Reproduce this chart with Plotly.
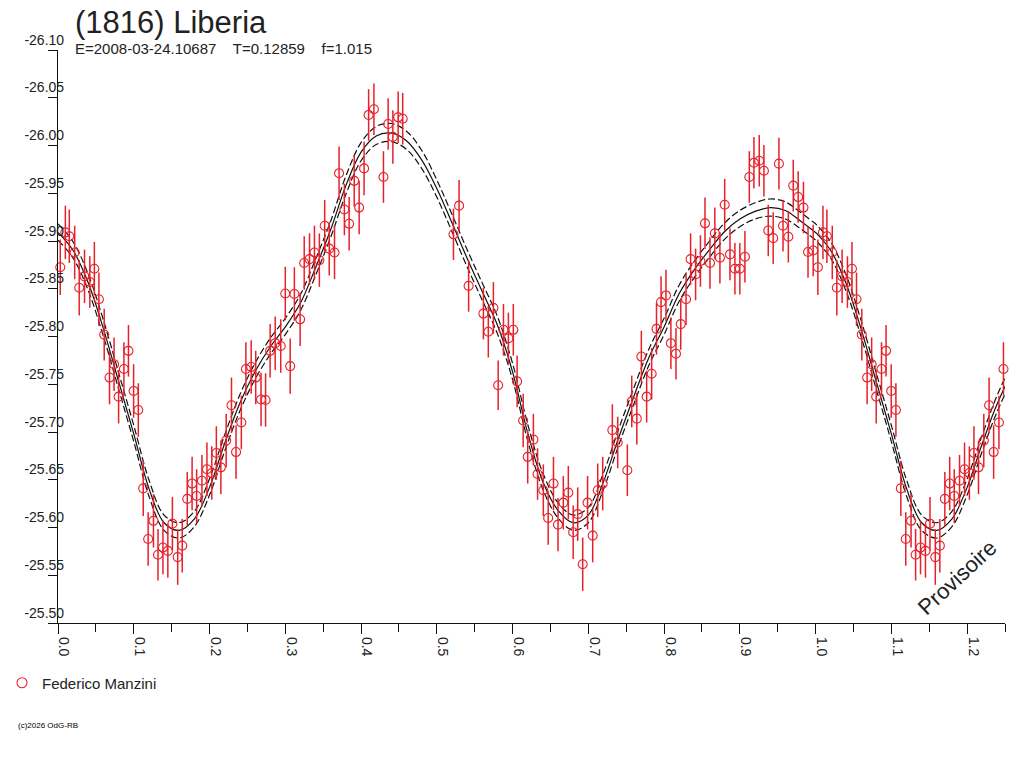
import plotly.graph_objects as go

# ---- observed data (phase, reduced magnitude, error) ----
phase = [0.003, 0.0097, 0.0149, 0.022, 0.028, 0.035, 0.042, 0.048, 0.054, 0.061,
         0.068, 0.074, 0.080, 0.087, 0.093, 0.0998, 0.106, 0.1125, 0.119, 0.126,
         0.132, 0.1385, 0.145, 0.151, 0.158, 0.164, 0.1706, 0.177, 0.183, 0.190,
         0.1966, 0.203, 0.209, 0.215, 0.222, 0.229, 0.235, 0.242, 0.248, 0.255,
         0.261, 0.268, 0.274, 0.280, 0.2867, 0.294, 0.300, 0.3065, 0.312, 0.3196,
         0.325, 0.332, 0.3385, 0.345, 0.352, 0.358, 0.365, 0.371, 0.378, 0.3843,
         0.391, 0.3975, 0.404, 0.410, 0.417, 0.4296, 0.4358, 0.442, 0.449, 0.455,
         0.522, 0.5294, 0.542, 0.5615, 0.568, 0.5747, 0.581, 0.588, 0.5945, 0.601,
         0.606, 0.614, 0.620, 0.6275, 0.633, 0.6406, 0.647, 0.654, 0.660, 0.667,
         0.6736, 0.680, 0.686, 0.6926, 0.699, 0.7058, 0.7124, 0.719, 0.7317, 0.7388,
         0.7515, 0.7573, 0.764, 0.770, 0.777, 0.7836, 0.790, 0.796, 0.8025, 0.809,
         0.8157, 0.822, 0.829, 0.835, 0.8416, 0.848, 0.854, 0.8606, 0.867, 0.8737,
         0.880, 0.887, 0.8935, 0.900, 0.9067, 0.9125, 0.9186, 0.9256, 0.9318, 0.9375,
         0.944, 0.9516, 0.957, 0.964, 0.9705, 0.977, 0.984, 0.990, 0.9968]
mag = [-25.8725, -25.909, -25.905, -25.888, -25.851, -25.863, -25.857, -25.871, -25.839, -25.802,
       -25.757, -25.771, -25.737, -25.766, -25.785, -25.743, -25.723, -25.641, -25.588, -25.607,
       -25.5715, -25.579, -25.5755, -25.604, -25.569, -25.581, -25.630, -25.646, -25.633, -25.649,
       -25.661, -25.657, -25.678, -25.663, -25.691, -25.728, -25.679, -25.710, -25.766, -25.768,
       -25.757, -25.734, -25.7335, -25.785, -25.793, -25.790, -25.845, -25.769, -25.8445, -25.818,
       -25.877, -25.881, -25.888, -25.880, -25.916, -25.892, -25.888, -25.971, -25.933, -25.918,
       -25.963, -25.935, -25.976, -26.032, -26.038, -25.967, -26.0225, -26.009, -26.0295, -26.028,
       -25.907, -25.937, -25.853, -25.824, -25.805, -25.830, -25.749, -25.807, -25.798, -25.807,
       -25.753, -25.712, -25.674, -25.692, -25.656, -25.639, -25.610, -25.646, -25.603, -25.626,
       -25.6365, -25.595, -25.614, -25.5615, -25.626, -25.5915, -25.639, -25.646, -25.702, -25.689,
       -25.660, -25.732, -25.714, -25.779, -25.737, -25.761, -25.808, -25.836, -25.843, -25.793,
       -25.782, -25.813, -25.839, -25.881, -25.865, -25.879, -25.9185, -25.877, -25.908, -25.8825,
       -25.938, -25.886, -25.871, -25.871, -25.8835, -25.967, -25.982, -25.984, -25.9736, -25.911,
       -25.903, -25.981, -25.916, -25.9045, -25.958, -25.946, -25.935, -25.8885, -25.890]
err = [0.029, 0.028, 0.028, 0.028, 0.029, 0.028, 0.027, 0.028, 0.028, 0.027,
       0.028, 0.028, 0.028, 0.028, 0.027, 0.028, 0.028, 0.029, 0.028, 0.028,
       0.027, 0.028, 0.028, 0.028, 0.029, 0.028, 0.028, 0.028, 0.028, 0.027,
       0.028, 0.028, 0.028, 0.028, 0.028, 0.029, 0.028, 0.028, 0.028, 0.028,
       0.028, 0.028, 0.028, 0.028, 0.028, 0.028, 0.028, 0.029, 0.028, 0.028,
       0.028, 0.027, 0.028, 0.028, 0.027, 0.028, 0.028, 0.028, 0.027, 0.028,
       0.027, 0.028, 0.028, 0.027, 0.027, 0.027, 0.027, 0.028, 0.027, 0.027,
       0.027, 0.027, 0.027, 0.027, 0.027, 0.027, 0.026, 0.027, 0.027, 0.027,
       0.027, 0.028, 0.028, 0.027, 0.027, 0.027, 0.028, 0.028, 0.028, 0.028,
       0.028, 0.028, 0.028, 0.028, 0.028, 0.028, 0.028, 0.028, 0.027, 0.027,
       0.027, 0.027, 0.027, 0.027, 0.027, 0.027, 0.027, 0.027, 0.027, 0.027,
       0.027, 0.027, 0.027, 0.027, 0.027, 0.027, 0.027, 0.027, 0.027, 0.027,
       0.027, 0.027, 0.027, 0.027, 0.027, 0.027, 0.027, 0.027, 0.027, 0.027,
       0.027, 0.027, 0.027, 0.027, 0.027, 0.027, 0.027, 0.027, 0.027]

# ---- fitted light curve (solid) and its envelope (dashed) ----
curve_phase = [0.00, 0.02, 0.04, 0.06, 0.08, 0.10, 0.12, 0.14, 0.16, 0.18,
               0.20, 0.22, 0.24, 0.26, 0.28, 0.30, 0.32, 0.34, 0.36, 0.38,
               0.40, 0.42, 0.44, 0.46, 0.48, 0.50, 0.52, 0.54, 0.56, 0.58,
               0.60, 0.62, 0.64, 0.66, 0.68, 0.70, 0.72, 0.74, 0.76, 0.78,
               0.80, 0.82, 0.84, 0.86, 0.88, 0.90, 0.92, 0.94, 0.96, 0.98, 1.00]
curve_fit = [-25.909, -25.890, -25.856, -25.808, -25.753, -25.698, -25.641, -25.605, -25.597, -25.609,
             -25.642, -25.688, -25.730, -25.763, -25.789, -25.810, -25.835, -25.872, -25.912, -25.958,
             -25.993, -26.010, -26.013, -26.005, -25.985, -25.955, -25.919, -25.882, -25.847, -25.812,
             -25.763, -25.699, -25.648, -25.618, -25.605, -25.613, -25.648, -25.694, -25.737, -25.778,
             -25.810, -25.845, -25.870, -25.891, -25.910, -25.923, -25.931, -25.935, -25.932, -25.921, -25.909]
curve_hi = [-25.918, -25.899, -25.865, -25.817, -25.762, -25.707, -25.650, -25.613, -25.605, -25.617,
            -25.651, -25.697, -25.739, -25.772, -25.798, -25.819, -25.844, -25.881, -25.921, -25.968,
            -26.003, -26.020, -26.023, -26.015, -25.995, -25.964, -25.928, -25.891, -25.856, -25.821,
            -25.772, -25.708, -25.657, -25.626, -25.613, -25.621, -25.657, -25.703, -25.746, -25.787,
            -25.819, -25.854, -25.879, -25.900, -25.919, -25.932, -25.940, -25.944, -25.941, -25.930, -25.918]
curve_lo = [-25.901, -25.882, -25.848, -25.800, -25.745, -25.690, -25.633, -25.597, -25.589, -25.601,
            -25.634, -25.680, -25.722, -25.755, -25.781, -25.802, -25.827, -25.864, -25.904, -25.949,
            -25.984, -26.001, -26.004, -25.996, -25.976, -25.946, -25.910, -25.873, -25.838, -25.803,
            -25.755, -25.691, -25.640, -25.610, -25.597, -25.605, -25.640, -25.686, -25.729, -25.770,
            -25.802, -25.837, -25.862, -25.883, -25.902, -25.915, -25.923, -25.926, -25.923, -25.913, -25.901]

x_ticks = [0.0, 0.1, 0.2, 0.3, 0.4, 0.5, 0.6, 0.7, 0.8, 0.9, 1.0, 1.1, 1.2]
y_ticks = [-26.10, -26.05, -26.00, -25.95, -25.90, -25.85, -25.80, -25.75,
           -25.70, -25.65, -25.60, -25.55, -25.50]

XMAX = 1.25
RED = "#e8202a"
FONT = "Liberation Sans, Arial, sans-serif"
TXT = "#222222"

# plot-area size in px (used to place text in paper units)
PW, PH = 947, 573
def pxx(v):  # horizontal px offset from plot left -> paper
    return v / PW
def pxy(v):  # vertical px offset from plot top (downwards) -> paper
    return 1 - v / PH

# phase-folded plot repeats the start of the cycle beyond phase 1
def extend(xs, ys, limit):
    ex = list(xs) + [x + 1 for x in xs if x + 1 <= limit]
    ey = list(ys) + [y for x, y in zip(xs, ys) if x + 1 <= limit]
    return ex, ey

px_, py_ = extend(phase, mag, XMAX)
_, pe_ = extend(phase, err, XMAX)
cx, cy = extend(curve_phase, curve_fit, 1.30)
_, chi = extend(curve_phase, curve_hi, 1.30)
_, clo = extend(curve_phase, curve_lo, 1.30)

fig = go.Figure()
for yy, dash in ((chi, "7px,3px"), (clo, "7px,3px"), (cy, "solid")):
    fig.add_trace(go.Scatter(x=cx, y=yy, mode="lines",
                             line=dict(color="#111111", width=1.2, dash=dash, shape="spline", smoothing=1.0),
                             showlegend=False, hoverinfo="skip"))

fig.add_trace(go.Scatter(
    x=px_, y=py_, mode="markers",
    marker=dict(symbol="circle-open", size=9, color=RED, line=dict(width=1.1, color=RED)),
    error_y=dict(type="data", array=pe_, visible=True, color=RED, thickness=1.5, width=0),
    showlegend=False, cliponaxis=False, name="Federico Manzini"))

fig.add_trace(go.Scatter(
    x=[None], y=[None], mode="markers", name="Federico Manzini",
    marker=dict(symbol="circle-open", size=10, color=RED, line=dict(width=1.1, color=RED)),
    showlegend=True))

fig.update_layout(
    width=1024, height=768,
    margin=dict(l=50, r=27, t=42, b=153, autoexpand=False),
    paper_bgcolor="white", plot_bgcolor="white",
    font=dict(family=FONT, color=TXT, size=14),
    showlegend=True,
    legend=dict(x=pxx(-56), y=pxy(633), xanchor="left", yanchor="middle",
                font=dict(size=15, family=FONT, color=TXT), bgcolor="rgba(0,0,0,0)",
                borderwidth=0),
    xaxis=dict(range=[0, XMAX], showgrid=False, zeroline=False, automargin=False,
               showline=True, linecolor="#111111", linewidth=1.2,
               ticks="outside", ticklen=10, tickcolor="#111111", tickwidth=1.2,
               tickvals=x_ticks, ticktext=[f"{v:.1f}" for v in x_ticks],
               tickangle=90, tickfont=dict(size=14, family=FONT, color=TXT),
               ticklabelshift=6,
               minor=dict(tickvals=[v + 0.05 for v in x_ticks], ticks="outside", ticklen=8,
                          tickcolor="#111111", tickwidth=1.2)),
    yaxis=dict(range=[-25.50, -26.10], showgrid=False, zeroline=False, automargin=False,
               showline=True, linecolor="#111111", linewidth=1.2,
               ticks="outside", ticklen=9, tickcolor="#111111", tickwidth=1.2,
               tickvals=y_ticks, ticktext=[f"{v:.2f}" for v in y_ticks],
               tickfont=dict(size=14, family=FONT, color=TXT),
               ticklabelposition="outside top", ticklabelstandoff=-10),
    annotations=[
        dict(text="(1816) Liberia", xref="paper", yref="paper", x=pxx(15), y=pxy(-28),
             xanchor="left", yanchor="middle", showarrow=False, font=dict(size=31, family=FONT, color=TXT)),
        dict(text="E=2008-03-24.10687    T=0.12859    f=1.015", xref="paper", yref="paper",
             x=pxx(15), y=pxy(-1.5), xanchor="left", yanchor="middle", showarrow=False,
             font=dict(size=15, family=FONT, color=TXT)),
        dict(text="Provisoire", xref="paper", yref="paper", x=pxx(899), y=pxy(527),
             xanchor="center", yanchor="middle", showarrow=False, textangle=-43,
             font=dict(size=22, family=FONT, color=TXT)),
        dict(text="(c)2026 OdG-RB", xref="paper", yref="paper", x=pxx(-42), y=pxy(675),
             xanchor="left", yanchor="middle", showarrow=False,
             font=dict(size=8, family=FONT, color="#000000")),
    ],
)

fig.write_html("out.html")
